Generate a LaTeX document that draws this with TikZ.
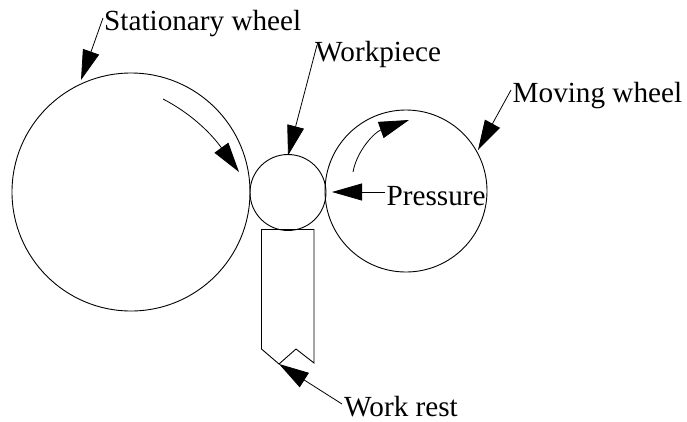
\documentclass[tikz,border=0pt]{standalone}
\usepackage{fontspec}
\setmainfont{Liberation Serif}
\usetikzlibrary{arrows.meta}
\tikzset{
  wheel/.style={draw,circle,inner sep=0pt,line width=0.9pt},
  lbl/.style={anchor=base west,inner sep=0pt,font=\fontsize{29.2}{32}\selectfont},
  pointer/.style={line width=0.8pt,-{Triangle[length=30pt,width=17pt]}},
  restline/.style={line width=0.9pt}
}
\begin{document}
\begin{tikzpicture}[x=1pt,y=-1pt]
\useasboundingbox (0,0) rectangle (687,421);
\node[wheel,minimum size=238pt] (stat) at (131,192) {};
\node[wheel,minimum size=76pt] (work) at (288,192.5) {};
\node[wheel,minimum size=162pt] (mov) at (406,191) {};
\draw[restline] (261.5,229.5) coordinate (r1) -- (314,229.5) coordinate (r2) -- (314,363) coordinate (r3)
  -- (296,349) coordinate (r4) -- (279,364) coordinate (r5) -- (261.5,349) coordinate (r6) -- cycle;
\node[lbl] (tstat) at (104,30) {Stationary wheel};
\node[lbl] (twork) at (315,61) {Workpiece};
\node[lbl] (tmov) at (512.5,102) {Moving wheel};
\node[lbl] (tpres) at (386.5,205) {Pressure};
\node[lbl] (trest) at (344,416) {Work rest};
\coordinate (as) at (103,18);
\coordinate (aw) at (317,45);
\coordinate (am) at (511,90);
\coordinate (ap) at (385,192);
\coordinate (ar) at (342,404);
\coordinate (c1) at (163,99);
\coordinate (c2) at (353,172);
\draw[pointer] (as) -- (81,80);
\draw[pointer] (aw) -- (288,155.5);
\draw[pointer] (am) -- (478,150);
\draw[pointer] (ap) -- (332,192);
\draw[pointer] (ar) -- (r5);
\draw[pointer] (c1) .. controls (190,113) and (210,132) .. (239,172);
\draw[pointer] (c2) .. controls (357,150) and (375,132) .. (409,120);
\end{tikzpicture}
\end{document}
